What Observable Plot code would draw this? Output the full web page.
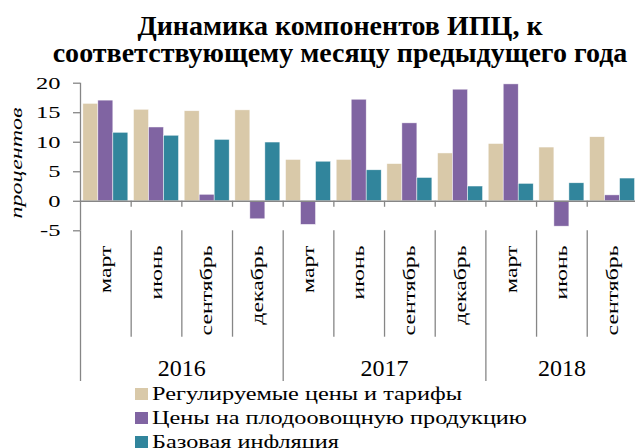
<!DOCTYPE html>
<html><head><meta charset="utf-8">
<script src="https://cdn.jsdelivr.net/npm/d3@7"></script>
<script src="https://cdn.jsdelivr.net/npm/@observablehq/plot@0.6"></script>
<style>
body{margin:0;background:#fff;overflow:hidden;font-family:"Liberation Serif",serif;color:#000;}
#title{box-sizing:border-box;width:635px;height:72px;padding:13px 0 0 45px;text-align:center;font-weight:bold;font-size:27px;line-height:26.5px;white-space:nowrap;}
#title div{height:26.5px;overflow:visible;}
#title span{display:inline;}
#chart{height:310px;}
#legend{padding-left:135px;}
.row{height:24px;display:flex;align-items:center;}
.sw{width:13px;height:12px;margin-right:4px;flex:none;}
.lab{font-size:18.6px;line-height:24px;transform-origin:left center;white-space:nowrap;display:inline-block;}
</style></head><body>
<div id="title"></div>
<div id="chart"></div>
<div id="legend"></div>
<script>
// ---- data ----
const yearsList = ["2016", "2017", "2018"];
const yearOf = ["2016","2016","2016","2016","2017","2017","2017","2017","2018","2018","2018"];
const months = ["март","июнь","сентябрь","декабрь","март","июнь","сентябрь","декабрь","март","июнь","сентябрь"];
const seriesNames = ["Регулируемые цены и тарифы", "Цены на плодоовощную продукцию", "Базовая инфляция"];
const regulated = [16.5, 15.5, 15.25, 15.4, 7.0, 7.0, 6.3, 8.1, 9.7, 9.1, 10.85];
const fruitVeg  = [17.05, 12.5, 1.1, -3.05, -4.0, 17.2, 13.2, 18.9, 19.8, -4.3, 1.0];
const core      = [11.6, 11.1, 10.4, 9.95, 6.7, 5.25, 3.95, 2.5, 2.95, 3.05, 3.85];
const yTicks = [-5, 0, 5, 10, 15, 20];
const yLabel = "процентов";
const titleText = ["Динамика компонентов ИПЦ, к", "соответствующему месяцу предыдущего года"];
const colors = ["#D9C9A9", "#8064A2", "#31859C"];

// ---- build ----
const n = months.length;
const idx = d3.range(n);
const seriesValues = [regulated, fruitVeg, core];
const sub = d3.scaleBand().domain(seriesNames).range([0, 1]).paddingInner(0).paddingOuter(0.189);
const bars = seriesNames.flatMap((s, k) => idx.map(i => ({i, s, v: seriesValues[k][i]})));
const bounds = d3.range(n + 1);
const isYearBound = b => b === 0 || b === n || yearOf[b - 1] !== yearOf[b];
const yearGroups = yearsList.map(y => {
  const ii = idx.filter(i => yearOf[i] === y);
  return {y, c: (ii[0] + ii[ii.length - 1] + 1) / 2};
});
const gray = "#868686";

// title: fit the long line to the reference width
const T = d3.select("#title");
const tspans = titleText.map(t => T.append("div").append("span").text(t).node());
{
  const w = tspans[tspans.length - 1].getBoundingClientRect().width;
  if (w > 0) T.style("font-size", (27 * 575 / w) + "px");
}

const plot = Plot.plot({
  width: 635, height: 310,
  marginTop: 10.7, marginBottom: 151.7, marginLeft: 80, marginRight: 0,
  style: {fontFamily: '"Liberation Serif", serif', background: "white", overflow: "visible", color: "black"},
  x: {domain: [0, n], range: [80, 637.4], axis: null},
  y: {domain: [-5, 20], axis: null},
  color: {domain: seriesNames, range: colors},
  marks: [
    Plot.rectY(bars, {x1: d => d.i + sub(d.s), x2: d => d.i + sub(d.s) + sub.bandwidth(), y1: 0, y2: "v",
      fill: "s", stroke: "white", strokeWidth: 0.6, strokeOpacity: 0.8}),
    Plot.ruleY([0], {stroke: gray, strokeWidth: 1.5}),
    Plot.ruleX([0], {stroke: gray, strokeWidth: 1.3}),
    Plot.axisY(yTicks, {anchor: "left", tickSize: 7, tickPadding: 13, stroke: gray, strokeWidth: 1.3,
      fill: "black", fontSize: 17.5, label: null, tickFormat: d => String(d)}),
    Plot.ruleX(bounds.slice(1), {x: d => d, y1: 0, y2: 0, insetBottom: -6, stroke: gray, strokeWidth: 1.3}),
    Plot.ruleX(bounds.filter(b => !isYearBound(b)), {x: d => d, y1: -5, y2: -5, insetBottom: -106.4, stroke: gray, strokeWidth: 1.3}),
    Plot.ruleX(bounds.filter(isYearBound), {x: d => d, y1: -5, y2: -5, insetBottom: -150.7, stroke: gray, strokeWidth: 1.3}),
    // text marks (order matters for the post-processing below)
    Plot.text(idx, {x: i => i + 0.5, text: i => months[i], frameAnchor: "bottom", dy: 14.7, rotate: -90,
      textAnchor: "end", lineAnchor: "middle", fontSize: 16.5, fill: "black"}),
    Plot.text(yearGroups, {x: "c", text: "y", frameAnchor: "bottom", dy: 144.7, lineAnchor: "bottom",
      fontSize: 24, fill: "black"}),
    Plot.text([yLabel], {frameAnchor: "left", dx: -59, dy: 6, rotate: -90, textAnchor: "middle", lineAnchor: "bottom",
      fontSize: 17, fontStyle: "italic", fill: "black"})
  ]
});
document.getElementById("chart").append(plot);

// reference glyphs are drawn wide: stretch texts along their direction
function maxLen(sel) { let m = 0; sel.each(function () { m = Math.max(m, this.getComputedTextLength()); }); return m; }
function stretch(sel, k) {
  if (!(k > 0 && isFinite(k))) return;
  sel.each(function () {
    const tr = this.getAttribute("transform");
    if (tr && tr.includes("rotate")) {
      this.setAttribute("transform", tr + ` scale(${k},1)`);
    } else {
      const w = this.getComputedTextLength();
      this.setAttribute("textLength", w * k);
      this.setAttribute("lengthAdjust", "spacingAndGlyphs");
    }
  });
}
const S = d3.select(plot);
stretch(S.selectAll('g[aria-label="y-axis tick label"] text'), 1.4);
const textGroups = S.selectAll('g[aria-label="text"]').nodes();
if (textGroups.length >= 3) {
  const mSel = d3.select(textGroups[0]).selectAll("text");
  stretch(mSel, 90 / maxLen(mSel));
  const ySel = d3.select(textGroups[2]).selectAll("text");
  stretch(ySel, 111 / maxLen(ySel));
}

// legend
const lg = d3.select("#legend");
const labs = seriesNames.map((s, k) => {
  const r = lg.append("div").attr("class", "row");
  r.append("span").attr("class", "sw").style("background", colors[k]);
  return r.append("span").attr("class", "lab").text(s).node();
});
{
  const w = Math.max(...labs.map(l => l.getBoundingClientRect().width));
  const k = 375 / w;
  if (w > 0) labs.forEach(l => l.style.transform = `scaleX(${k})`);
}
</script>
</body></html>
